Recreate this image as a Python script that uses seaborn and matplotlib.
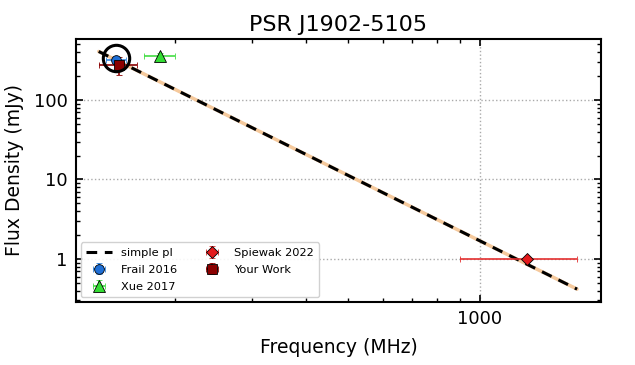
import numpy as np
import matplotlib
matplotlib.use('Agg')
from matplotlib import pyplot as plt
from matplotlib.ticker import FuncFormatter
import seaborn as sns

sns.set_style('ticks')
plt.rcParams['font.family'] = ['DejaVu Sans']
plt.rcParams['text.color'] = 'black'
plt.rcParams['axes.labelcolor'] = 'black'
plt.rcParams['xtick.color'] = 'black'
plt.rcParams['ytick.color'] = 'black'

# Flux density measurements (MHz, mJy)
labels = ['Frail 2016', 'Xue 2017', 'Spiewak 2022', 'Your Work']
freqs = [147, 185, 1284, 149]
freq_errs = [8, 15, 385, 15]
fluxes = [318, 360, 1.0, 276]
flux_errs = [30, 30, 0.05, 70]
markers = ['o', '^', 'D', 's']
face_colors = ['#1f6fd6', '#33dd33', '#e41a1c', '#8b0000']
err_colors = ['#3b8be0', '#44dd44', '#e43030', '#8b0000']
marker_sizes = [7, 8, 6.5, 7]

# simple power law fit
pl_index = -2.73
pl_ref_freq = 1000.0
pl_ref_flux = 1.69
pl_fmin, pl_fmax = 134, 1670

fig, ax = plt.subplots(figsize=(6.35, 3.65), dpi=100)
fig.subplots_adjust(left=0.12, right=0.946, top=0.893, bottom=0.173)

fit_freq = np.logspace(np.log10(pl_fmin), np.log10(pl_fmax), 100)
fit_flux = pl_ref_flux * (fit_freq / pl_ref_freq) ** pl_index
sns.lineplot(x=fit_freq, y=fit_flux, color='#f5c99c', lw=2.5, ax=ax, zorder=2)
sns.lineplot(x=fit_freq, y=fit_flux, color='black', lw=2.2, ls=(0, (3.5, 2.5)),
             label='simple pl', ax=ax, zorder=3)

for lab, f, fe, s, se, m, fc, ec, ms in zip(labels, freqs, freq_errs, fluxes, flux_errs,
                                            markers, face_colors, err_colors, marker_sizes):
    ax.errorbar(f, s, xerr=fe, yerr=se, fmt=m, color=ec, mfc=fc, mec='black',
                mew=0.6, ms=ms, capsize=2.5, elinewidth=1.2,
                label=lab, zorder=4)

# highlight circle around the low-frequency points
ax.plot([freqs[0]], [fluxes[0] * 1.05], 'o', mfc='none', mec='black', mew=2.2,
        ms=19, zorder=5)

ax.set_xscale('log')
ax.set_yscale('log')
ax.set_xlim(119, 1892)
ax.set_ylim(0.288, 585)
ax.xaxis.set_major_formatter(FuncFormatter(lambda v, p: f'{v:g}'))
ax.yaxis.set_major_formatter(FuncFormatter(lambda v, p: f'{v:g}'))
ax.xaxis.set_minor_formatter(FuncFormatter(lambda v, p: ''))
ax.tick_params(which='both', direction='in', top=True, right=True, labelsize=13, pad=6)
ax.tick_params(which='major', length=5, width=1.2)
ax.tick_params(which='minor', length=3, width=1)
for sp in ax.spines.values():
    sp.set_linewidth(1.5)
    sp.set_color('black')
ax.grid(True, which='major', ls=':', color='#aaaaaa', lw=1)

ax.set_title('PSR J1902-5105', fontsize=16)
ax.set_xlabel('Frequency (MHz)', fontsize=13.5, labelpad=7)
ax.set_ylabel('Flux Density (mJy)', fontsize=13.5, labelpad=7)

h, l = ax.get_legend_handles_labels()
order = ['simple pl', 'Frail 2016', 'Xue 2017', 'Spiewak 2022', 'Your Work']
hl = {lb: hd for hd, lb in zip(h, l)}
ax.legend([hl[o] for o in order], order, loc='lower left', ncol=2, fontsize=8.2,
          handlelength=2.2, columnspacing=2.0, labelspacing=0.6, borderpad=0.5,
          framealpha=0.9, borderaxespad=0.4)

fig.savefig('out.png', dpi=100)
